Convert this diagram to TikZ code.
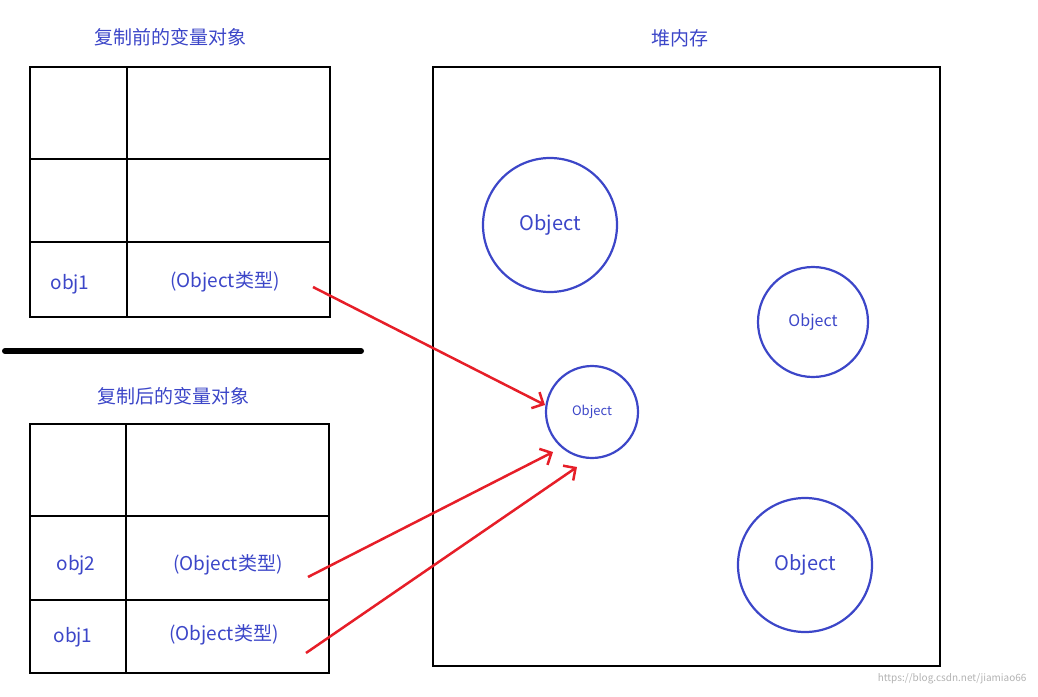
\documentclass[tikz,border=0pt]{standalone}
\usepackage{fontspec}
\setmainfont{Noto Sans CJK SC}
\usetikzlibrary{arrows.meta}
\definecolor{tblue}{RGB}{60,70,200}
\definecolor{tred}{RGB}{230,30,40}
\begin{document}
\begin{tikzpicture}[x=1pt,y=-1pt,
  ln/.style={line width=2.2pt,black},
  circ/.style={circle,draw=tblue,line width=2.2pt,text=tblue,inner sep=0pt},
  lab/.style={text=tblue,font=\fontsize{19}{19}\selectfont},
  ttl/.style={text=tblue,font=\fontsize{19}{19}\selectfont},
  arr/.style={tred,line width=2.5pt,-{Straight Barb[length=9pt,width=18pt]}}]
\useasboundingbox (0,0) rectangle (1038,696);
% top table
\draw[ln] (30,67) rectangle (330,317);
\draw[ln] (127,67) -- (127,317) (30,159) -- (330,159) (30,242) -- (330,242);
\node[ttl] (t1) at (170,37) {复制前的变量对象};
\node[lab] (a1) at (70,284) {obj1};
\node[lab] (a2) at (225,282) {(Object类型)};
% separator
\draw[line width=6pt,line cap=round] (5,351) -- (361,351);
% bottom table
\node[ttl] (t2) at (173,396) {复制后的变量对象};
\draw[ln] (30,424) rectangle (329,673);
\draw[ln] (126,424) -- (126,673) (30,516) -- (329,516) (30,600) -- (329,600);
\node[lab] (b1) at (76,565) {obj2};
\node[lab] (b2) at (228,565) {(Object类型)};
\node[lab] (c1) at (73,637) {obj1};
\node[lab] (c2) at (224,635) {(Object类型)};
% heap
\node[ttl] (t3) at (680,38) {堆内存};
\draw[ln] (433,67) rectangle (940,666);
\node[circ,minimum size=134pt,font=\fontsize{20}{20}\selectfont] (o1) at (550,225) {Object};
\node[circ,minimum size=110pt,font=\fontsize{16}{16}\selectfont] (o2) at (813,322) {Object};
\node[circ,minimum size=92pt,font=\fontsize{13}{13}\selectfont] (o3) at (592,412) {Object};
\node[circ,minimum size=134pt,font=\fontsize{20}{20}\selectfont] (o4) at (805,565) {Object};
% arrows
\coordinate (s1) at (313,287);
\coordinate (s2) at (308,577);
\coordinate (s3) at (306,653);
\coordinate (e1) at (545,405);
\coordinate (e2) at (553,452);
\coordinate (e3) at (577,467);
\draw[arr] (s1) -- (e1);
\draw[arr] (s2) -- (e2);
\draw[arr] (s3) -- (e3);
\node[text=gray!60,font=\fontsize{10}{10}\selectfont,anchor=east] (wm) at (1030,679) {https://blog.csdn.net/jiamiao66};
\end{tikzpicture}
\end{document}
